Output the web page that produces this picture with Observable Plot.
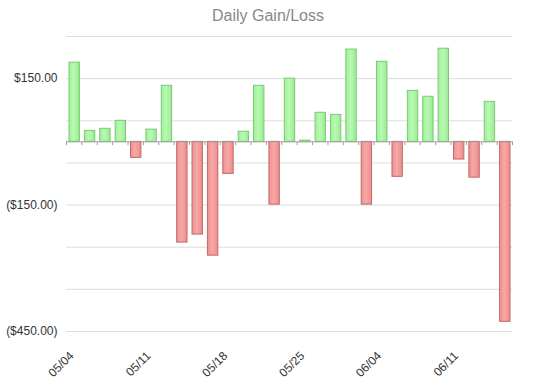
<!DOCTYPE html>
<html>
<head>
<meta charset="utf-8">
<script src="https://cdn.jsdelivr.net/npm/d3@7"></script>
<script src="https://cdn.jsdelivr.net/npm/@observablehq/plot@0.6"></script>
<style>
  body { margin: 0; background: #fff; font-family: "Liberation Sans", Arial, sans-serif; }
  #title { width: 536px; height: 30px; line-height: 32px; text-align: center; font-size: 16px; color: #888; }
</style>
</head>
<body>
<div id="title">Daily Gain/Loss</div>
<div id="chart"></div>
<script>
const dates = ["05/04","05/05","05/06","05/07","05/08","05/11","05/12","05/13","05/14","05/15",
               "05/18","05/19","05/20","05/21","05/22","05/25","05/26","05/27","05/28","05/29",
               "06/04","06/05","06/08","06/09","06/10","06/11","06/12","06/15","06/16"];
const values = [188, 26, 31, 50, -38, 29, 133, -239, -220, -270,
                -76, 24, 133, -149, 150, 3, 69, 64, 219, -149,
                190, -83, 121, 107, 221, -42, -85, 95, -427];
const gridTicks = [250, 150, 50, -50, -150, -250, -350, -450];
const labelTicks = [150, -150, -450];
const dateLabelIdx = [0, 5, 10, 15, 20, 25];

const data = dates.map((d, i) => ({i, date: d, value: values[i]}));
const fmt = v => (v < 0 ? "($" + d3.format(",.2f")(-v) + ")" : "$" + d3.format(",.2f")(v));

const defs = () => {
  const g = d3.create("svg:defs");
  const mk = (id, stops) => {
    const lg = g.append("linearGradient").attr("id", id).attr("x1", "0").attr("x2", "1").attr("y1", "0").attr("y2", "0");
    stops.forEach(([o, c]) => lg.append("stop").attr("offset", o).attr("stop-color", c));
  };
  mk("gGreen", [["0%", "#a2ee9b"], ["45%", "#b6fbb0"], ["100%", "#9de896"]]);
  mk("gRed", [["0%", "#ee9090"], ["45%", "#f7a7a7"], ["100%", "#ec8d8d"]]);
  return g.node();
};

const chart = Plot.plot({
  width: 536,
  height: 358,
  marginTop: 6,
  marginBottom: 57,
  marginLeft: 66,
  marginRight: 24,
  style: {fontFamily: "'Liberation Sans', Arial, sans-serif", fontSize: "12px", color: "#333", background: "#fff"},
  x: {type: "linear", domain: [0, dates.length], axis: null},
  y: {domain: [-450, 250], axis: null},
  marks: [
    defs,
    Plot.gridY(gridTicks, {stroke: "#dedede", strokeOpacity: 1}),
    Plot.axisY(labelTicks, {tickSize: 0, tickPadding: 9, tickFormat: fmt, fontSize: 12, fill: "#333", label: null}),
    Plot.rectY(data.filter(d => d.value >= 0), {x1: "i", x2: d => d.i + 1, y: "value", insetLeft: 3, insetRight: 2, fill: "url(#gGreen)", stroke: "#79c971", strokeWidth: 1}),
    Plot.rectY(data.filter(d => d.value < 0), {x1: "i", x2: d => d.i + 1, y: "value", insetLeft: 3, insetRight: 2, fill: "url(#gRed)", stroke: "#c46767", strokeWidth: 1}),
    Plot.ruleY([0], {stroke: "#a0a0a0"}),
    Plot.ruleX(d3.range(dates.length + 1), {x: d => d, y1: 0, y2: -9, stroke: "#a0a0a0"}),
    Plot.text(dateLabelIdx, {x: d => d, frameAnchor: "bottom", text: d => dates[d], rotate: -45, textAnchor: "end", dx: 8, dy: 25, fontSize: 12, fill: "#333"})
  ]
});
document.getElementById("chart").appendChild(chart);
</script>
</body>
</html>
